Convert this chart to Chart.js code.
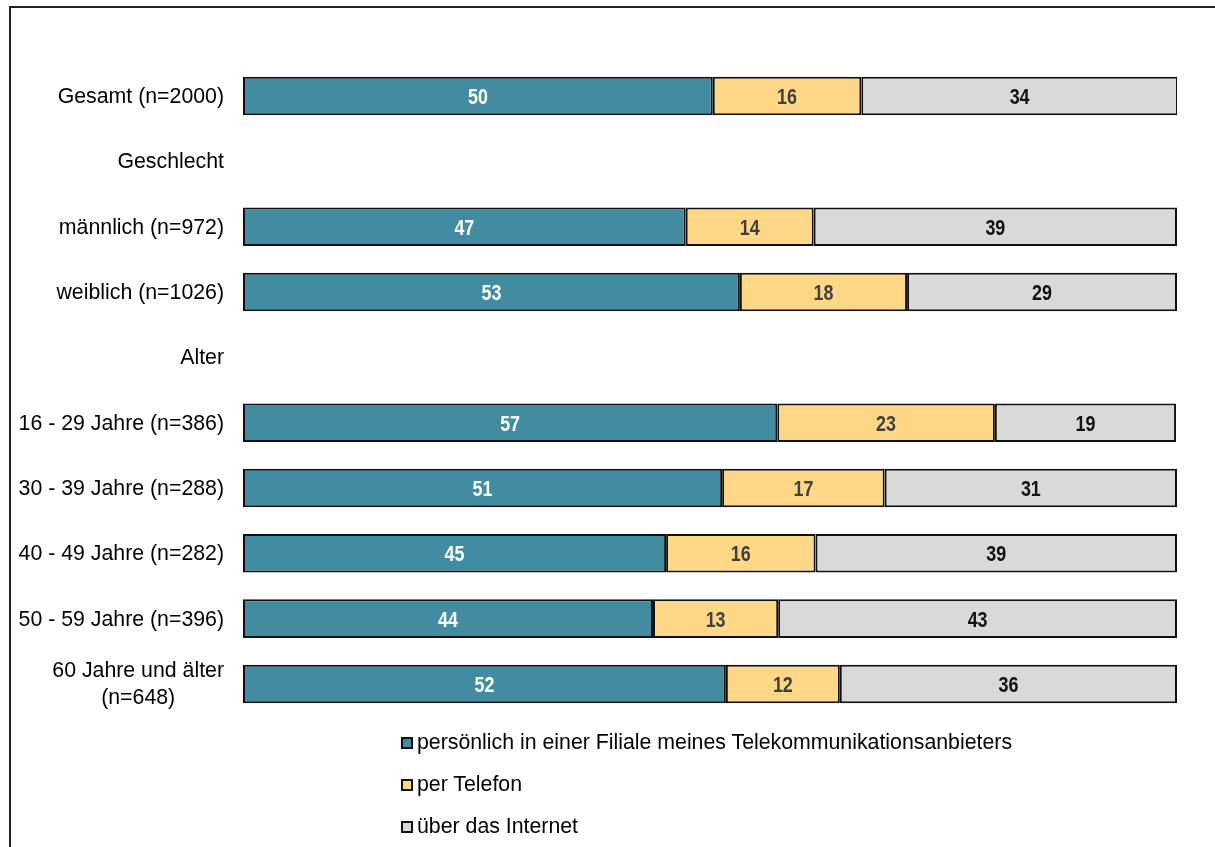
<!DOCTYPE html>
<html lang="de">
<head>
<meta charset="utf-8">
<script src="https://cdn.jsdelivr.net/npm/chart.js@4.4.1/dist/chart.umd.min.js"></script>
<style>
  html, body { margin: 0; padding: 0; background: #fff; overflow: hidden; }
  #wrap { position: relative; width: 1215px; height: 847px; }
  #frame { position: absolute; left: 9px; top: 6px; width: 1300px; height: 1000px; border-left: 2px solid #222; border-top: 2px solid #222; box-sizing: border-box; }
  canvas { position: absolute; left: 0; top: 0; }
  #legend { position: absolute; left: 401px; top: 721px; font-family: "Liberation Sans", Arial, sans-serif; font-size: 21.3px; color: #000; }
  .item { height: 42px; display: flex; align-items: center; white-space: nowrap; }
  .box { width: 8px; height: 8px; border: 2px solid #111; margin-right: 4px; margin-top: 2px; }
</style>
</head>
<body>
<div id="wrap">
  <div id="frame"></div>
  <canvas id="c" width="1215" height="847"></canvas>
  <div id="legend"></div>
</div>
<script>
// Categories (header rows carry no data)
const categories = [
  ["Gesamt (n=2000)"],
  ["Geschlecht"],
  ["männlich (n=972)"],
  ["weiblich (n=1026)"],
  ["Alter"],
  ["16 - 29 Jahre (n=386)"],
  ["30 - 39 Jahre (n=288)"],
  ["40 - 49 Jahre (n=282)"],
  ["50 - 59 Jahre (n=396)"],
  ["60 Jahre und älter", "(n=648)"]
];
const seriesNames = [
  "persönlich in einer Filiale meines Telekommunikationsanbieters",
  "per Telefon",
  "über das Internet"
];
// Values in percent (labels show rounded values)
const filiale  = [50.3, null, 47.4, 53.2, null, 57.2, 51.3, 45.3, 43.9, 51.7];
const telefon  = [15.9, null, 13.7, 17.9, null, 23.3, 17.4, 16.0, 13.4, 12.2];
const internet = [33.9, null, 38.9, 28.9, null, 19.4, 31.3, 38.7, 42.7, 36.1];
const displayed = [
  [50, null, 47, 53, null, 57, 51, 45, 44, 52],
  [16, null, 14, 18, null, 23, 17, 16, 13, 12],
  [34, null, 39, 29, null, 19, 31, 39, 43, 36]
];

const colors = ["#418CA0", "#FFD887", "#D9D9D9"];
const labelColors = ["#FFFFFF", "#404040", "#111111"];
const FONT = '"Liberation Sans", Arial, sans-serif';

const yLabelsPlugin = {
  id: 'yLabels',
  afterDraw(chart) {
    const ctx = chart.ctx;
    const y = chart.scales.y;
    ctx.save();
    ctx.font = '21.3px ' + FONT;
    ctx.fillStyle = '#000';
    ctx.textBaseline = 'middle';
    const rightX = 224;
    const lineH = 27;
    categories.forEach((lines, i) => {
      const cy = y.getPixelForValue(i) + 1;
      const widths = lines.map(l => ctx.measureText(l).width);
      const maxW = Math.max(...widths);
      const center = rightX - maxW / 2;
      lines.forEach((l, k) => {
        const ly = cy + (k - (lines.length - 1) / 2) * lineH;
        if (lines.length > 1) {
          ctx.textAlign = 'center';
          ctx.fillText(l, center, ly);
        } else {
          ctx.textAlign = 'right';
          ctx.fillText(l, rightX, ly);
        }
      });
    });
    ctx.restore();
  }
};

const valueLabelsPlugin = {
  id: 'valueLabels',
  afterDatasetsDraw(chart) {
    const ctx = chart.ctx;
    chart.data.datasets.forEach((ds, di) => {
      const meta = chart.getDatasetMeta(di);
      meta.data.forEach((bar, i) => {
        const v = displayed[di][i];
        if (v === null || ds.data[i] === null) return;
        const p = bar.getProps(['x', 'y', 'base'], true);
        ctx.save();
        ctx.translate((p.x + p.base) / 2, p.y + 2);
        ctx.scale(0.84, 1);
        ctx.font = 'bold 21.3px ' + FONT;
        ctx.textAlign = 'center';
        ctx.textBaseline = 'middle';
        ctx.fillStyle = labelColors[di];
        ctx.fillText(String(v), 0, 0);
        ctx.restore();
      });
    });
  }
};

const series = [filiale, telefon, internet];
new Chart(document.getElementById('c'), {
  type: 'bar',
  data: {
    labels: categories.map(c => c.join(' ')),
    datasets: series.map((d, i) => ({
      label: seriesNames[i],
      data: d,
      backgroundColor: colors[i],
      borderColor: '#111111',
      borderWidth: 2,
      borderSkipped: false,
      barPercentage: 1,
      categoryPercentage: 0.59
    }))
  },
  options: {
    indexAxis: 'y',
    responsive: false,
    animation: false,
    layout: { padding: { left: 243, right: 38, top: 63.4, bottom: 130.4 } },
    scales: {
      x: { stacked: true, min: 0, max: 100, display: false },
      y: { stacked: true, display: false }
    },
    plugins: { legend: { display: false }, tooltip: { enabled: false } }
  },
  plugins: [yLabelsPlugin, valueLabelsPlugin]
});

const leg = document.getElementById('legend');
seriesNames.forEach((n, i) => {
  const it = document.createElement('div');
  it.className = 'item';
  const b = document.createElement('span');
  b.className = 'box';
  b.style.background = colors[i];
  const t = document.createElement('span');
  t.textContent = n;
  it.appendChild(b); it.appendChild(t);
  leg.appendChild(it);
});
</script>
</body>
</html>
